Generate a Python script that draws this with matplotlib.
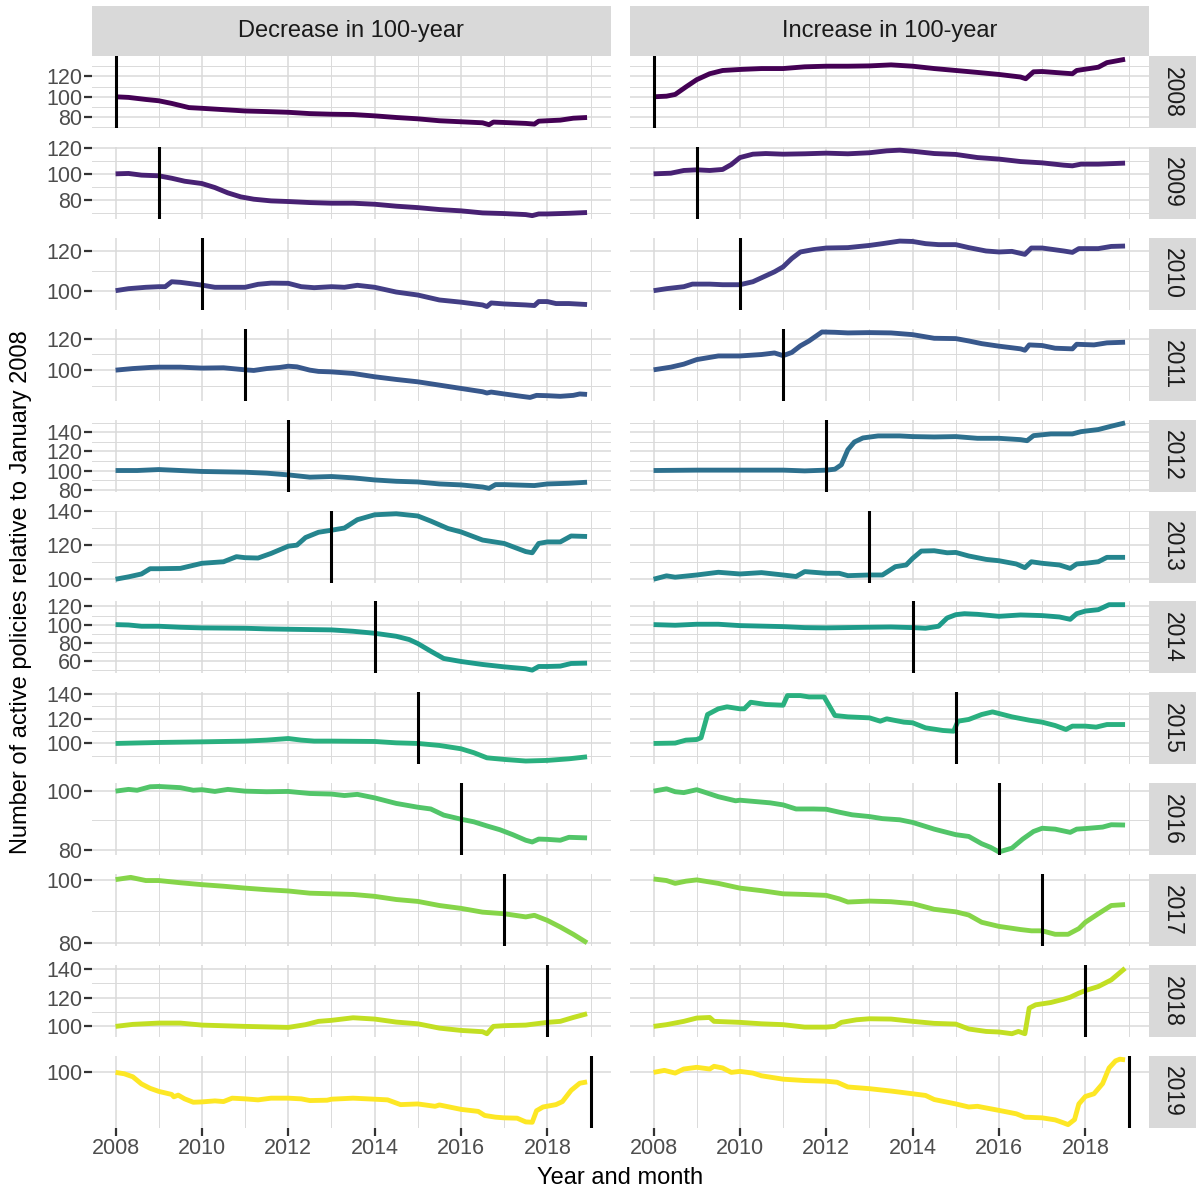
import numpy as np
import matplotlib.pyplot as plt

plt.rcParams['font.family'] = ['Liberation Sans', 'DejaVu Sans']

# rows of the facet grid and the two columns
years = list(range(2008, 2020))
col_titles = ["Decrease in 100-year", "Increase in 100-year"]
x_breaks = [2008, 2010, 2012, 2014, 2016, 2018]
y_breaks = [
    [80, 100, 120], [80, 100, 120], [100, 120], [100, 120],
    [80, 100, 120, 140], [100, 120, 140], [60, 80, 100, 120], [100, 120, 140],
    [80, 100], [80, 100], [100, 120, 140], [100],
]

# (year, index) pairs
dec_2008 = [(2008.0, 100), (2008.3, 99.4), (2008.7, 97.4), (2009.0, 96.1), (2009.3, 93.5), (2009.7, 89.4),
            (2010.0, 88.7), (2010.5, 87.4), (2011.0, 86.1), (2011.5, 85.5), (2012.0, 84.8), (2012.5, 83.5),
            (2013.0, 82.9), (2013.5, 82.6), (2014.0, 81.3), (2014.5, 79.7), (2015.0, 78.4), (2015.5, 76.5),
            (2016.0, 75.5), (2016.5, 74.5), (2016.65, 72.6), (2016.75, 75.2), (2017.0, 74.8), (2017.5, 73.9),
            (2017.7, 73.2), (2017.8, 76.1), (2018.0, 76.5), (2018.3, 77.1), (2018.6, 79.0), (2018.92, 79.7)]
inc_2008 = [(2008.0, 100), (2008.3, 100.6), (2008.5, 102.3), (2008.75, 109.7), (2009.0, 116.8), (2009.3, 122.6),
            (2009.6, 125.8), (2010.0, 126.8), (2010.5, 127.7), (2011.0, 127.7), (2011.5, 129.4), (2012.0, 130),
            (2012.5, 130), (2013.0, 130.3), (2013.5, 131.3), (2014.0, 130), (2014.5, 127.7), (2015.0, 125.8),
            (2015.5, 123.9), (2016.0, 121.9), (2016.5, 119.4), (2016.62, 117.7), (2016.8, 124.5), (2017.0, 124.8),
            (2017.5, 123.2), (2017.7, 122.6), (2017.8, 125.8), (2018.0, 127.1), (2018.3, 129), (2018.5, 133.5),
            (2018.92, 136.8)]

dec_2009 = [(2008.0, 100), (2008.3, 100.3), (2008.6, 99), (2009.0, 98.5), (2009.3, 96.6), (2009.6, 94.3),
            (2010.0, 92.5), (2010.3, 89.4), (2010.6, 85.3), (2010.9, 82.2), (2011.2, 80.4), (2011.6, 79.1),
            (2012.0, 78.6), (2012.5, 77.8), (2013.0, 77.3), (2013.5, 77.3), (2014.0, 76.5), (2014.5, 75),
            (2015.0, 73.9), (2015.5, 72.4), (2016.0, 71.4), (2016.5, 69.8), (2017.0, 69.3), (2017.5, 68.5),
            (2017.65, 67.7), (2017.8, 69), (2018.0, 69), (2018.5, 69.5), (2018.92, 70.1)]
inc_2009 = [(2008.0, 100), (2008.4, 100.5), (2008.7, 102.6), (2009.0, 103.1), (2009.3, 102.6), (2009.6, 103.4),
            (2009.8, 107.2), (2010.0, 112.6), (2010.3, 115.2), (2010.6, 115.7), (2011.0, 115.2), (2011.5, 115.5),
            (2012.0, 116), (2012.5, 115.5), (2013.0, 116.3), (2013.4, 117.8), (2013.7, 118.3), (2014.0, 117.5),
            (2014.5, 115.7), (2015.0, 115), (2015.5, 112.6), (2016.0, 111.4), (2016.5, 109.5), (2017.0, 108.5),
            (2017.5, 106.7), (2017.7, 106.2), (2017.9, 107.5), (2018.3, 107.5), (2018.92, 108.3)]

dec_2010 = [(2008.0, 100), (2008.3, 101), (2008.7, 101.7), (2009.0, 102), (2009.15, 102), (2009.3, 104.5),
            (2009.5, 104.2), (2010.0, 102.8), (2010.3, 101.7), (2010.5, 101.7), (2011.0, 101.7), (2011.3, 103.2),
            (2011.6, 103.8), (2012.0, 103.7), (2012.3, 102), (2012.6, 101.5), (2013.0, 102), (2013.3, 101.7),
            (2013.6, 102.7), (2014.0, 101.7), (2014.5, 99.3), (2015.0, 97.8), (2015.5, 95.3), (2016.0, 94.2),
            (2016.5, 92.8), (2016.6, 92), (2016.7, 93.8), (2017.0, 93.3), (2017.5, 92.8), (2017.7, 92.5),
            (2017.8, 94.5), (2018.0, 94.5), (2018.2, 93.5), (2018.5, 93.5), (2018.92, 93)]
inc_2010 = [(2008.0, 100), (2008.3, 101), (2008.7, 102), (2008.9, 103.3), (2009.3, 103.3), (2009.6, 103),
            (2010.0, 103), (2010.3, 104.5), (2010.5, 106.5), (2010.8, 109.5), (2011.0, 112), (2011.2, 116.2),
            (2011.4, 119.5), (2011.7, 120.7), (2012.0, 121.5), (2012.5, 121.7), (2013.0, 122.8), (2013.3, 123.7),
            (2013.7, 125), (2014.0, 124.8), (2014.3, 123.7), (2014.6, 123.2), (2015.0, 123.2), (2015.3, 121.7),
            (2015.7, 120), (2016.0, 119.5), (2016.3, 119.8), (2016.6, 118.3), (2016.75, 121.5), (2017.0, 121.5),
            (2017.5, 120), (2017.7, 119.3), (2017.85, 121.2), (2018.3, 121.2), (2018.6, 122.3), (2018.92, 122.5)]

dec_2011 = [(2008.0, 100), (2008.4, 101), (2008.8, 101.7), (2009.0, 101.9), (2009.5, 101.9), (2010.0, 101.3),
            (2010.5, 101.5), (2011.0, 100.2), (2011.2, 99.8), (2011.5, 101), (2011.8, 101.7), (2012.0, 102.5),
            (2012.2, 102.1), (2012.5, 100), (2012.7, 99.2), (2013.0, 98.9), (2013.5, 97.9), (2014.0, 95.8),
            (2014.5, 94.1), (2015.0, 92.6), (2015.5, 90.5), (2016.0, 88.4), (2016.5, 86.3), (2016.6, 85.5),
            (2016.7, 86.1), (2017.0, 84.9), (2017.4, 83.4), (2017.6, 82.7), (2017.75, 84), (2018.0, 83.8),
            (2018.3, 83.4), (2018.6, 84), (2018.75, 84.9), (2018.92, 84.6)]
inc_2011 = [(2008.0, 100.2), (2008.4, 101.9), (2008.7, 103.8), (2009.0, 106.7), (2009.5, 109), (2010.0, 109),
            (2010.5, 109.9), (2010.8, 110.9), (2011.0, 109.2), (2011.2, 111.2), (2011.4, 115.4), (2011.6, 118.5),
            (2011.9, 124.2), (2012.2, 124), (2012.5, 123.6), (2013.0, 123.8), (2013.5, 123.6), (2014.0, 122.5),
            (2014.5, 120.2), (2015.0, 120), (2015.3, 118.5), (2015.6, 116.8), (2016.0, 115.2), (2016.5, 113.5),
            (2016.6, 112.6), (2016.7, 116), (2017.0, 115.6), (2017.3, 113.9), (2017.7, 113.5), (2017.8, 116.4),
            (2018.2, 116), (2018.5, 117.3), (2018.92, 117.7)]

dec_2012 = [(2008.0, 100), (2008.5, 100), (2009.0, 101), (2009.5, 100), (2010.0, 99), (2011.0, 98.2),
            (2011.5, 97.2), (2012.0, 95.4), (2012.5, 93), (2013.0, 93.7), (2013.5, 92.3), (2014.0, 90.1),
            (2014.5, 88.7), (2015.0, 88), (2015.5, 85.9), (2016.0, 84.9), (2016.5, 82.7), (2016.65, 81.3),
            (2016.8, 85.2), (2017.0, 85.2), (2017.7, 84.2), (2018.0, 85.9), (2018.5, 86.6), (2018.92, 87.7)]
inc_2012 = [(2008.0, 100), (2009.0, 100.4), (2010.0, 100.4), (2011.0, 100.4), (2011.5, 99.6), (2012.0, 100.4),
            (2012.2, 101.4), (2012.35, 106), (2012.5, 121.8), (2012.65, 129.9), (2012.85, 134.2), (2013.2, 136.3),
            (2013.7, 136.3), (2014.0, 135.6), (2014.5, 135.2), (2015.0, 135.6), (2015.5, 133.8), (2016.0, 133.8),
            (2016.5, 132.4), (2016.65, 131.3), (2016.8, 136.6), (2017.2, 138.4), (2017.7, 138.4), (2017.9, 140.8),
            (2018.3, 143), (2018.6, 146.5), (2018.92, 150)]

dec_2013 = [(2008.0, 100), (2008.3, 101.4), (2008.6, 103.1), (2008.8, 106.2), (2009.0, 106.2), (2009.5, 106.4),
            (2010.0, 109.4), (2010.5, 110.3), (2010.8, 113.3), (2011.0, 112.7), (2011.3, 112.5), (2011.6, 115.2),
            (2012.0, 119.5), (2012.2, 120.1), (2012.4, 124.6), (2012.7, 127.7), (2013.0, 128.9), (2013.3, 130.2),
            (2013.6, 135.1), (2014.0, 138), (2014.5, 138.6), (2015.0, 137.3), (2015.3, 134.3), (2015.7, 129.9),
            (2016.0, 127.9), (2016.5, 123.1), (2017.0, 121.1), (2017.5, 116.3), (2017.65, 115.6), (2017.8, 121.1),
            (2018.0, 122), (2018.3, 122), (2018.55, 125.5), (2018.92, 125.2)]
inc_2013 = [(2008.0, 100), (2008.3, 102), (2008.5, 101.2), (2009.0, 102.5), (2009.5, 104.1), (2010.0, 103.1),
            (2010.5, 103.9), (2011.0, 102.5), (2011.3, 101.6), (2011.5, 104.5), (2012.0, 103.5), (2012.3, 103.5),
            (2012.5, 102.1), (2013.0, 102.5), (2013.3, 102.5), (2013.6, 107.4), (2013.85, 108.4), (2014.0, 112.3),
            (2014.2, 116.6), (2014.5, 116.8), (2014.8, 115.6), (2015.0, 115.8), (2015.3, 113.7), (2015.7, 111.7),
            (2016.0, 110.9), (2016.4, 109), (2016.6, 106.8), (2016.75, 110.3), (2017.0, 109.4), (2017.4, 108.4),
            (2017.65, 106.4), (2017.8, 109), (2018.0, 109.4), (2018.3, 110.3), (2018.5, 112.9), (2018.92, 112.9)]

dec_2014 = [(2008.0, 100), (2008.3, 99.6), (2008.6, 98.2), (2009.0, 98.2), (2009.5, 97.1), (2010.0, 96.4),
            (2011.0, 96), (2011.5, 95.3), (2012.0, 94.9), (2013.0, 94.2), (2013.5, 92.7), (2014.0, 90.5),
            (2014.5, 87.2), (2014.8, 83.6), (2015.0, 79.2), (2015.3, 70.8), (2015.6, 62.8), (2016.0, 59.5),
            (2016.5, 56.2), (2017.0, 53.6), (2017.5, 51.5), (2017.65, 50), (2017.8, 54), (2018.0, 54),
            (2018.3, 54.4), (2018.55, 57.3), (2018.92, 57.7)]
inc_2014 = [(2008.0, 100), (2008.5, 99.3), (2009.0, 100.4), (2009.5, 100.4), (2010.0, 98.9), (2011.0, 97.8),
            (2011.5, 96.7), (2012.0, 96.4), (2013.0, 97.1), (2013.5, 97.4), (2014.0, 96.7), (2014.3, 96),
            (2014.6, 98.2), (2014.8, 107.3), (2015.0, 110.9), (2015.2, 112), (2015.5, 111.3), (2016.0, 109.1),
            (2016.5, 110.6), (2017.0, 109.9), (2017.4, 108.4), (2017.65, 105.8), (2017.8, 112), (2018.0, 114.9),
            (2018.3, 116.4), (2018.55, 121.9), (2018.92, 121.9)]

dec_2015 = [(2008.0, 100), (2009.0, 100.8), (2010.0, 101.3), (2011.0, 101.9), (2011.5, 102.7), (2012.0, 104),
            (2012.3, 102.7), (2012.6, 101.9), (2013.0, 101.9), (2014.0, 101.6), (2014.5, 100.5), (2015.0, 100),
            (2015.5, 98.4), (2016.0, 95.7), (2016.3, 92.5), (2016.6, 88.4), (2017.0, 87.1), (2017.5, 85.8),
            (2018.0, 86.3), (2018.5, 87.6), (2018.92, 89.2)]
inc_2015 = [(2008.0, 100), (2008.5, 100.3), (2008.75, 102.7), (2009.0, 103.2), (2009.1, 104.6), (2009.25, 123.4),
            (2009.5, 128), (2009.7, 129.6), (2010.0, 128), (2010.1, 128), (2010.25, 133.3), (2010.6, 131.5),
            (2011.0, 130.9), (2011.1, 138.7), (2011.4, 138.7), (2011.6, 137.6), (2011.95, 137.6), (2012.2, 122.6),
            (2012.5, 121.5), (2013.0, 120.7), (2013.25, 118), (2013.4, 119.9), (2013.8, 117.2), (2014.0, 116.7),
            (2014.3, 112.6), (2014.7, 110.5), (2014.95, 109.9), (2015.05, 118), (2015.3, 119.4), (2015.6, 123.4),
            (2015.85, 125.5), (2016.0, 124.2), (2016.3, 121.5), (2016.7, 118.8), (2017.0, 117.2), (2017.3, 114.5),
            (2017.55, 111.3), (2017.7, 114), (2018.0, 114), (2018.25, 113.2), (2018.5, 115.3), (2018.92, 115.3)]

dec_2016 = [(2008.0, 100), (2008.3, 100.6), (2008.5, 100.3), (2008.8, 101.5), (2009.0, 101.6), (2009.5, 101.2),
            (2009.8, 100.3), (2010.0, 100.5), (2010.3, 99.9), (2010.6, 100.6), (2011.0, 100), (2011.5, 99.8),
            (2012.0, 99.9), (2012.5, 99.2), (2013.0, 99), (2013.3, 98.5), (2013.6, 98.9), (2014.0, 97.7),
            (2014.5, 95.8), (2015.0, 94.5), (2015.3, 93.9), (2015.6, 91.8), (2016.0, 90.4), (2016.3, 89.5),
            (2016.6, 88.1), (2016.9, 86.8), (2017.2, 85.1), (2017.5, 83.2), (2017.65, 82.6), (2017.8, 83.6),
            (2018.0, 83.5), (2018.3, 83.2), (2018.5, 84.2), (2018.92, 84)]
inc_2016 = [(2008.0, 100), (2008.3, 100.8), (2008.5, 99.8), (2008.7, 99.5), (2009.0, 100.5), (2009.15, 99.8),
            (2009.5, 98.1), (2009.9, 96.7), (2010.0, 96.9), (2010.7, 96), (2011.0, 95.3), (2011.3, 93.9),
            (2011.7, 93.9), (2012.0, 93.8), (2012.3, 92.8), (2012.6, 91.9), (2013.0, 91.3), (2013.3, 90.6),
            (2013.7, 90.2), (2014.0, 89.3), (2014.5, 87), (2015.0, 85.1), (2015.3, 84.5), (2015.6, 82),
            (2015.8, 80.8), (2016.0, 79.2), (2016.3, 80.5), (2016.55, 83.6), (2016.8, 86.2), (2017.0, 87.3),
            (2017.3, 87), (2017.65, 85.9), (2017.8, 87), (2018.0, 87.2), (2018.4, 87.7), (2018.6, 88.5),
            (2018.92, 88.4)]

dec_2017 = [(2008.0, 100), (2008.35, 100.7), (2008.7, 99.7), (2009.0, 99.7), (2009.5, 99), (2010.0, 98.4),
            (2010.5, 97.9), (2011.0, 97.3), (2011.5, 96.8), (2012.0, 96.4), (2012.5, 95.7), (2013.0, 95.5),
            (2013.5, 95.3), (2014.0, 94.7), (2014.5, 93.7), (2015.0, 93.1), (2015.5, 91.8), (2016.0, 90.9),
            (2016.5, 89.7), (2017.0, 89.2), (2017.5, 88.2), (2017.7, 88.7), (2018.0, 87.1), (2018.3, 85),
            (2018.6, 82.7), (2018.92, 80)]
inc_2017 = [(2008.0, 100.2), (2008.3, 99.7), (2008.5, 98.8), (2008.75, 99.5), (2009.0, 99.9), (2009.5, 98.8),
            (2010.0, 97.3), (2010.5, 96.5), (2011.0, 95.5), (2011.5, 95.3), (2012.0, 95), (2012.3, 93.9),
            (2012.5, 92.9), (2013.0, 93.2), (2013.5, 93), (2014.0, 92.4), (2014.5, 90.6), (2015.0, 89.8),
            (2015.3, 88.8), (2015.6, 86.5), (2016.0, 85.2), (2016.5, 84.2), (2016.75, 83.8), (2017.0, 83.8),
            (2017.3, 82.7), (2017.6, 82.7), (2017.85, 84.5), (2018.0, 86.5), (2018.3, 89.2), (2018.6, 91.8),
            (2018.92, 92.1)]

dec_2018 = [(2008.0, 100), (2008.4, 101.4), (2009.0, 102.3), (2009.5, 102.3), (2010.0, 100.9), (2011.0, 100),
            (2012.0, 99.3), (2012.4, 101.2), (2012.7, 103.5), (2013.0, 104.2), (2013.5, 106), (2014.0, 105.1),
            (2014.5, 103), (2015.0, 101.8), (2015.5, 98.8), (2016.0, 97.2), (2016.5, 96.3), (2016.6, 94.9),
            (2016.75, 100), (2017.0, 100.5), (2017.5, 100.9), (2018.0, 102.8), (2018.3, 103.5), (2018.6, 106.2),
            (2018.92, 108.8)]
inc_2018 = [(2008.0, 100), (2008.3, 101.2), (2008.7, 103.5), (2009.0, 105.8), (2009.3, 106.2), (2009.4, 103.5),
            (2010.0, 102.8), (2010.5, 101.8), (2011.0, 101.2), (2011.5, 99.5), (2012.0, 99.5), (2012.2, 100),
            (2012.35, 102.8), (2012.7, 104.6), (2013.0, 105.3), (2013.5, 105.1), (2014.0, 103.5), (2014.5, 102.1),
            (2015.0, 101.6), (2015.3, 98.2), (2015.7, 96.5), (2016.0, 96.1), (2016.3, 94.9), (2016.45, 96.5),
            (2016.6, 94.9), (2016.7, 112.7), (2016.85, 115), (2017.2, 116.6), (2017.5, 118.9), (2017.65, 120.3),
            (2017.85, 123.1), (2018.0, 124.9), (2018.3, 127.7), (2018.6, 132.3), (2018.92, 140.4)]

dec_2019 = [(2008.0, 100), (2008.2, 99.6), (2008.4, 98.7), (2008.6, 96.6), (2008.8, 95.3), (2009.0, 94.4),
            (2009.3, 93.5), (2009.35, 92.8), (2009.45, 93.3), (2009.6, 92.2), (2009.8, 91.2), (2010.0, 91.3),
            (2010.3, 91.6), (2010.5, 91.4), (2010.7, 92.4), (2011.0, 92.2), (2011.3, 91.9), (2011.6, 92.4),
            (2012.0, 92.4), (2012.3, 92.2), (2012.5, 91.7), (2012.9, 91.8), (2013.0, 92.1), (2013.5, 92.4),
            (2014.0, 92.1), (2014.3, 91.9), (2014.6, 90.5), (2015.0, 90.7), (2015.4, 90), (2015.5, 90.4),
            (2016.0, 89.1), (2016.4, 88.5), (2016.55, 87.3), (2016.8, 86.8), (2017.0, 86.6), (2017.3, 86.5),
            (2017.5, 85.4), (2017.65, 85.3), (2017.75, 88.7), (2017.9, 89.8), (2018.2, 90.5), (2018.35, 91.4),
            (2018.55, 94.7), (2018.75, 96.8), (2018.92, 97.2)]
inc_2019 = [(2008.0, 100), (2008.25, 100.6), (2008.5, 99.8), (2008.7, 101), (2009.0, 101.5), (2009.3, 101),
            (2009.4, 101.8), (2009.6, 101.3), (2009.8, 100), (2010.0, 100.3), (2010.3, 99.8), (2010.5, 99),
            (2011.0, 98), (2011.5, 97.6), (2012.0, 97.4), (2012.25, 97.1), (2012.5, 95.7), (2013.0, 95.2),
            (2013.5, 94.5), (2014.0, 93.7), (2014.3, 93.2), (2014.5, 92), (2015.0, 90.7), (2015.3, 89.8),
            (2015.5, 90), (2016.0, 88.8), (2016.4, 87.8), (2016.6, 86.8), (2017.0, 86.6), (2017.3, 86),
            (2017.5, 85.1), (2017.6, 84.6), (2017.75, 86.1), (2017.85, 90.7), (2018.0, 92.9), (2018.2, 93.7),
            (2018.4, 96.7), (2018.55, 101.3), (2018.7, 103.4), (2018.8, 103.9), (2018.92, 103.7)]

decrease = [dec_2008, dec_2009, dec_2010, dec_2011, dec_2012, dec_2013,
            dec_2014, dec_2015, dec_2016, dec_2017, dec_2018, dec_2019]
increase = [inc_2008, inc_2009, inc_2010, inc_2011, inc_2012, inc_2013,
            inc_2014, inc_2015, inc_2016, inc_2017, inc_2018, inc_2019]

# layout, in pixels
W, H = 1196, 1192
fig = plt.figure(figsize=(W / 100, H / 100), dpi=100)


def px_axes(x, y, w, h):
    return fig.add_axes([x / W, 1 - (y + h) / H, w / W, h / H])


col_x = [92, 630]
panel_w = 518.5
row_top, row_h, row_pitch = 56, 72, 90.9
grid_col = '#DADADA'
colors = plt.cm.viridis(np.linspace(0, 1, len(years)))

x_first, x_last = 2008.0, 2018.917
x_pad = 0.05 * (x_last - x_first)

for i, yr in enumerate(years):
    top = row_top + i * row_pitch
    vals = [v for _, v in decrease[i]] + [v for _, v in increase[i]]
    lo, hi = min(vals), max(vals)
    pad = 0.05 * (hi - lo)
    lo, hi = lo - pad, hi + pad
    brk = y_breaks[i]
    minors = []
    if len(brk) > 1:
        step = brk[1] - brk[0]
        minors = [b - step / 2 for b in brk] + [brk[-1] + step / 2]
        minors = [m for m in minors if lo <= m <= hi]

    for j, series in enumerate([decrease[i], increase[i]]):
        ax = px_axes(col_x[j], top, panel_w, row_h)
        xs = [p[0] for p in series]
        ys = [p[1] for p in series]
        ax.plot(xs, ys, color=colors[i], lw=3.5, solid_joinstyle='round',
                solid_capstyle='butt', zorder=3)
        ax.axvline(yr, color='black', lw=2.2, zorder=4)
        ax.set_xlim(x_first - x_pad, x_last + x_pad)
        ax.set_ylim(lo, hi)
        ax.set_xticks(x_breaks)
        ax.set_xticks(range(2009, 2020, 2), minor=True)
        ax.set_yticks(brk)
        ax.set_yticks(minors, minor=True)
        ax.grid(which='major', color=grid_col, lw=1.1)
        ax.grid(which='minor', color=grid_col, lw=0.7)
        ax.set_axisbelow(True)
        for s in ax.spines.values():
            s.set_visible(False)
        ax.tick_params(which='minor', length=0)
        ax.tick_params(which='major', colors='#333333', width=1.6, length=5.5,
                       labelcolor='#4D4D4D', labelsize=15.5, pad=1.5)
        if j == 1:
            ax.tick_params(axis='y', length=0, labelleft=False)
        if i < len(years) - 1:
            ax.tick_params(axis='x', length=0, labelbottom=False)

    # row strip on the right
    st = px_axes(1148.5, top, 47.5, row_h)
    st.set_facecolor('#D9D9D9')
    st.set_xticks([])
    st.set_yticks([])
    for s in st.spines.values():
        s.set_visible(False)
    st.text(0.5, 0.5, str(yr), rotation=270, ha='center', va='center',
            fontsize=16.5, color='#1A1A1A', transform=st.transAxes)

# column strips on top
for j, title in enumerate(col_titles):
    st = px_axes(col_x[j], 6, panel_w, 50)
    st.set_facecolor('#D9D9D9')
    st.set_xticks([])
    st.set_yticks([])
    for s in st.spines.values():
        s.set_visible(False)
    st.text(0.5, 0.5, title, ha='center', va='center', fontsize=17,
            color='#1A1A1A', transform=st.transAxes)

fig.text(21 / W, 1 - 592 / H, "Number of active policies relative to January 2008",
         rotation=90, ha='center', va='center', fontsize=17)
fig.text(620 / W, 1 - 1178 / H, "Year and month", ha='center', va='center', fontsize=17)

fig.savefig('out.png', dpi=100)
